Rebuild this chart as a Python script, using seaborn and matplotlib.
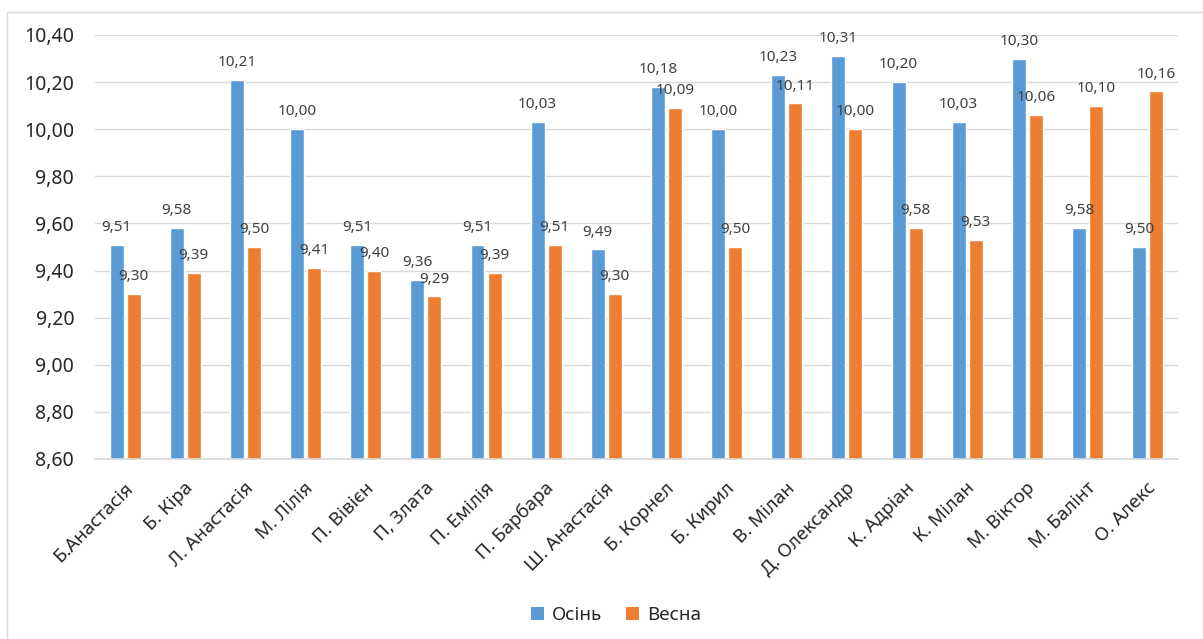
import matplotlib
matplotlib.use("Agg")
import matplotlib.pyplot as plt
from matplotlib.patches import Patch
from matplotlib.lines import Line2D
from matplotlib.transforms import ScaledTranslation
import seaborn as sns
import pandas as pd

students = ["Б.Анастасія", "Б. Кіра", "Л. Анастасія", "М. Лілія", "П. Вівієн",
            "П, Злата", "П. Емілія", "П. Барбара", "Ш. Анастасія", "Б. Корнел",
            "Б. Кирил", "В. Мілан", "Д. Олександр", "К. Адріан", "К. Мілан",
            "М. Віктор", "М. Балінт", "О. Алекс"]
autumn = [9.51, 9.58, 10.21, 10.00, 9.51, 9.36, 9.51, 10.03, 9.49, 10.18,
          10.00, 10.23, 10.31, 10.20, 10.03, 10.30, 9.58, 9.50]
spring = [9.30, 9.39, 9.50, 9.41, 9.40, 9.29, 9.39, 9.51, 9.30, 10.09,
          9.50, 10.11, 10.00, 9.58, 9.53, 10.06, 10.10, 10.16]
seasons = ["Осінь", "Весна"]
colors = ["#5B9BD5", "#ED7D31"]
y_ticks = [8.60, 8.80, 9.00, 9.20, 9.40, 9.60, 9.80, 10.00, 10.20, 10.40]

df = pd.DataFrame({
    "student": students * 2,
    "score": autumn + spring,
    "season": [seasons[0]] * len(students) + [seasons[1]] * len(students),
})

sns.set_theme(style="white")
plt.rcParams["font.family"] = ["Noto Sans", "DejaVu Sans"]

fig = plt.figure(figsize=(12.03, 6.39), dpi=100)
ax = fig.add_axes([0.079, 0.2817, 0.900, 0.6636])

sns.barplot(data=df, x="student", y="score", hue="season", order=students,
            hue_order=seasons, palette=colors, width=0.566, gap=0.18,
            saturation=1, legend=False, ax=ax)

ax.set_ylim(y_ticks[0], y_ticks[-1])
ax.set_yticks(y_ticks)
ax.set_yticklabels([f"{v:.2f}".replace(".", ",") for v in y_ticks],
                   fontsize=14, color="#262626")
ax.set_xlim(-0.5, len(students) - 0.5)
ax.set_xlabel("")
ax.set_ylabel("")
ax.yaxis.grid(True, color="#D9D9D9", linewidth=1)
ax.set_axisbelow(True)
for side in ["top", "right", "left"]:
    ax.spines[side].set_visible(False)
ax.spines["bottom"].set_color("#D9D9D9")
ax.tick_params(axis="both", length=0)
ax.tick_params(axis="y", pad=15)
ax.tick_params(axis="x", pad=19)

shift = ScaledTranslation(0.05, 0, fig.dpi_scale_trans)
for lbl in ax.get_xticklabels():
    lbl.set_rotation(45)
    lbl.set_ha("right")
    lbl.set_va("center")
    lbl.set_rotation_mode("anchor")
    lbl.set_fontsize(13.5)
    lbl.set_color("#262626")
    lbl.set_transform(lbl.get_transform() + shift)

for container in ax.containers:
    ax.bar_label(container, labels=[f"{b.get_height():.2f}".replace(".", ",")
                                    for b in container],
                 padding=7, fontsize=11, color="#404040")

handles = [Patch(facecolor=c, edgecolor="none", label=s) for s, c in zip(seasons, colors)]
fig.legend(handles=handles, loc="center", bbox_to_anchor=(0.512, 0.038), ncol=2,
           frameon=False, fontsize=13.5, handlelength=0.7, handleheight=0.7,
           handletextpad=0.4, columnspacing=1.3)

# chart frame
fig.add_artist(Line2D([7 / 1203, 7 / 1203], [0, 1 - 12 / 639], transform=fig.transFigure,
                      color="#D9D9D9", linewidth=1))
fig.add_artist(Line2D([7 / 1203, 1], [1 - 12 / 639, 1 - 12 / 639], transform=fig.transFigure,
                      color="#D9D9D9", linewidth=1))

fig.savefig("out.png", dpi=100)
